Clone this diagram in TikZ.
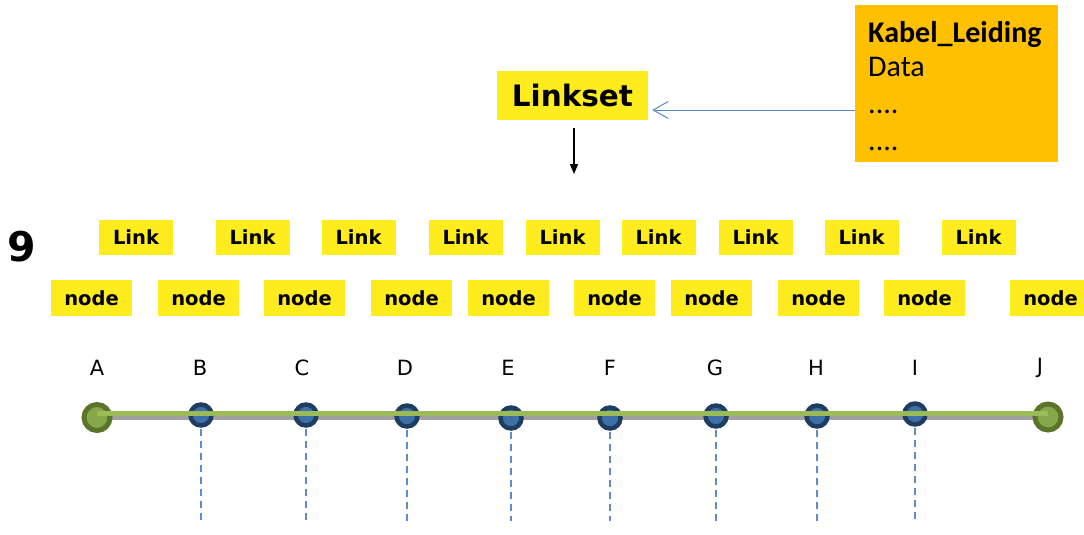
\documentclass[tikz,border=0pt]{standalone}
\usepackage{fontspec}
\setmainfont{DejaVu Sans}
\newfontfamily\calfont{Carlito}
\usetikzlibrary{arrows.meta}
\definecolor{linkyellow}{HTML}{FFEC1E}
\definecolor{kabelorange}{HTML}{FFC000}
\definecolor{arrowblue}{HTML}{5B86C5}
\definecolor{lgreen}{HTML}{9BBB59}
\definecolor{dgreen}{HTML}{5A7529}
\definecolor{cgreen}{HTML}{86A84A}
\definecolor{dnavy}{HTML}{1E3D60}
\definecolor{cblue}{HTML}{3E6FA6}
\definecolor{lgrey}{HTML}{A0A0A0}
\definecolor{dashblue}{HTML}{5B8BD0}
\tikzset{
  linkbox/.style={fill=linkyellow, inner sep=0pt, minimum width=74pt, minimum height=35pt, font=\fontsize{19.5}{20}\selectfont\bfseries},
  nodebox/.style={fill=linkyellow, inner sep=0pt, minimum width=81pt, minimum height=36pt, font=\fontsize{19.5}{20}\selectfont\bfseries},
  lbl/.style={inner sep=0pt, font=\fontsize{21}{22}\selectfont},
  enddot/.style={circle, draw=dgreen, fill=cgreen, line width=5pt, minimum size=26pt, inner sep=0pt},
  bluedot/.style={circle, draw=dnavy, fill=cblue, line width=4.5pt, minimum size=21pt, inner sep=0pt},
  dashline/.style={draw=dashblue, line width=2.5pt, dash pattern=on 7pt off 5pt},
}
\begin{document}
\begin{tikzpicture}[x=1pt,y=-1pt]
\useasboundingbox (0,0) rectangle (1084,535);
% top boxes
\node[fill=kabelorange, minimum width=203pt, minimum height=157pt, inner sep=0pt] (kabel) at (956.5,83.5) {};
\node[anchor=base west, inner sep=0pt, font=\calfont\fontsize{30}{30}\selectfont\bfseries] (kt1) at (868,43) {Kabel\_Leiding};
\node[anchor=base west, inner sep=0pt, font=\calfont\fontsize{30}{30}\selectfont] (kt2) at (868,77) {Data};
\node[anchor=base west, inner sep=0pt, font=\calfont\fontsize{30}{30}\selectfont] (kt3) at (868,113) {....};
\node[anchor=base west, inner sep=0pt, font=\calfont\fontsize{30}{30}\selectfont] (kt4) at (868,150) {....};
\node[fill=linkyellow, minimum width=151pt, minimum height=49pt, inner sep=0pt, font=\fontsize{29.5}{30}\selectfont\bfseries] (linkset) at (572.5,95.5) {Linkset};
\draw[arrowblue, line width=1pt, -{Straight Barb[length=15pt,width=17pt,line width=1pt]}] ([yshift=-26.5pt]kabel.west) -- ([xshift=4pt,yshift=-14.5pt]linkset.east);
\coordinate (arrend) at (574,174);
\draw[black, line width=1.2pt, -{Triangle[length=10pt,width=8pt]}] ([xshift=1.5pt,yshift=-8pt]linkset.south) -- (arrend);
% nine
\node[inner sep=0pt, font=\fontsize{41}{41}\selectfont\bfseries] (nine) at (22,247) {9};
% link boxes
\foreach \x [count=\i] in {136,252.5,358.5,465.5,562.5,658.5,755.5,861.5,978.5}
  \node[linkbox] (link\i) at (\x,237.5) {Link};
% node boxes
\foreach \x [count=\i] in {91.5,198.5,304.5,411.5,508.5,614.5,711.5,818.5,924.5,1050.5}
  \node[nodebox] (nd\i) at (\x,298) {node};
% letter labels
\foreach \x/\t in {97/A,200/B,302/C,405/D,508/E,610/F,715/G,816/H,915/I,1040/J}
  \node[lbl] (l\t) at (\x,367.5) {\t};
% grey line
\draw[lgrey, line width=4pt] (97,418) -- (1048,418);
% dots
\node[enddot] (A) at (97,417.5) {};
\node[enddot] (J) at (1048,417) {};
\foreach \x/\y/\t in {201/415/B,306/415/C,407/416/D,511/418/E,610/418/F,716/416/G,817/416/H,915/414/I}
  \node[bluedot] (\t) at (\x,\y) {};
% green line
\draw[lgreen, line width=5.5pt] ([yshift=4pt]A.center) -- ([yshift=3.5pt]J.center);
% dashed drops
\coordinate (dend) at (0,521);
\foreach \t in {B,C,D,E,F,G,H,I}
  \draw[dashline] ([yshift=-1pt]\t.south) -- (\t |- dend);
\end{tikzpicture}
\end{document}
